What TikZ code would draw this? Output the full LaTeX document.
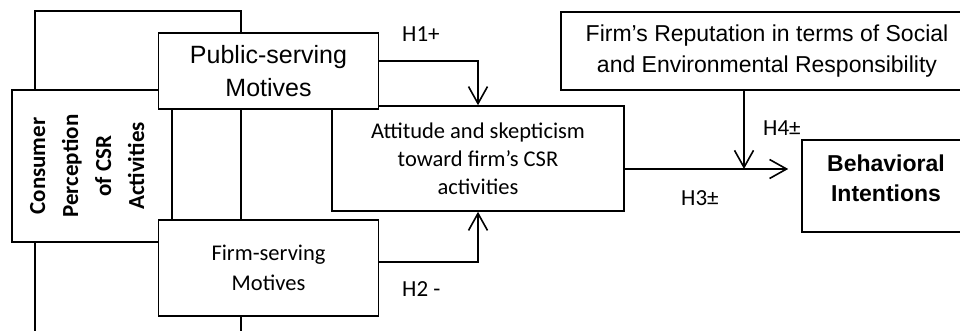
\documentclass[tikz,border=0pt]{standalone}
\usepackage{fontspec}
\newfontfamily\arialfont{Liberation Sans}
\newfontfamily\calfont{Carlito}
\usetikzlibrary{arrows.meta}

\begin{document}
\begin{tikzpicture}[x=1pt, y=-1pt,
    box/.style={draw, fill=white, line width=1.6pt, inner sep=0pt, align=center},
    arr/.style={-{Straight Barb[length=17pt, width=19pt]}, line width=1.6pt},
    hyp/.style={anchor=base west, inner sep=0pt, font=\calfont\fontsize{23}{27}\selectfont}
  ]
  \useasboundingbox (0,0) rectangle (960,331);
  \clip (0,0) rectangle (960,331);

  % frame round the two motives
  \draw[line width=1.6pt] (35,11) rectangle (241,345);

  \node[box, rotate=90, minimum width=152pt, minimum height=160pt, text depth=10pt,
        font=\calfont\bfseries\fontsize{23}{33}\selectfont] (cons) at (92,166)
        {Consumer\\Perception\\of CSR\\Activities};
  \node[box, minimum width=292pt, minimum height=105pt,
        font=\calfont\fontsize{22.5}{28}\selectfont] (att) at (478,158.5)
        {Attitude and skepticism\\toward firm’s CSR\\activities};
  \node[box, minimum width=220pt, minimum height=76pt, text depth=-9pt,
        font=\arialfont\fontsize{25}{33}\selectfont] (pub) at (268.5,71)
        {Public-serving\\Motives};
  \node[box, minimum width=220pt, minimum height=96pt,
        font=\calfont\fontsize{22.5}{30}\selectfont] (firm) at (268.5,268)
        {Firm-serving\\Motives};
  \node[box, minimum width=412pt, minimum height=78pt,
        font=\arialfont\fontsize{23}{31}\selectfont] (rep) at (767,51)
        {Firm’s Reputation in terms of Social\\and Environmental Responsibility};
  \node[box, minimum width=168pt, minimum height=92pt, text depth=15pt,
        font=\arialfont\bfseries\fontsize{23}{30}\selectfont] (beh) at (886,186)
        {Behavioral\\Intentions};

  \coordinate (jn) at (744,169);

  \draw[arr] (pub.east |- 0,61) -| (att.north);
  \draw[arr] (firm.east |- 0,262) -| (att.south);
  \draw[arr, shorten >=13pt] (att.east |- jn) -- (beh.west |- jn);
  \draw[arr] (rep.south -| jn) -- (jn);

  \node[hyp] (h1) at (402,42) {H1+};
  \node[hyp] (h2) at (402,296) {H2 -};
  \node[hyp] (h3) at (681,205) {H3±};
  \node[hyp] (h4) at (763,136) {H4±};

\end{tikzpicture}
\end{document}
